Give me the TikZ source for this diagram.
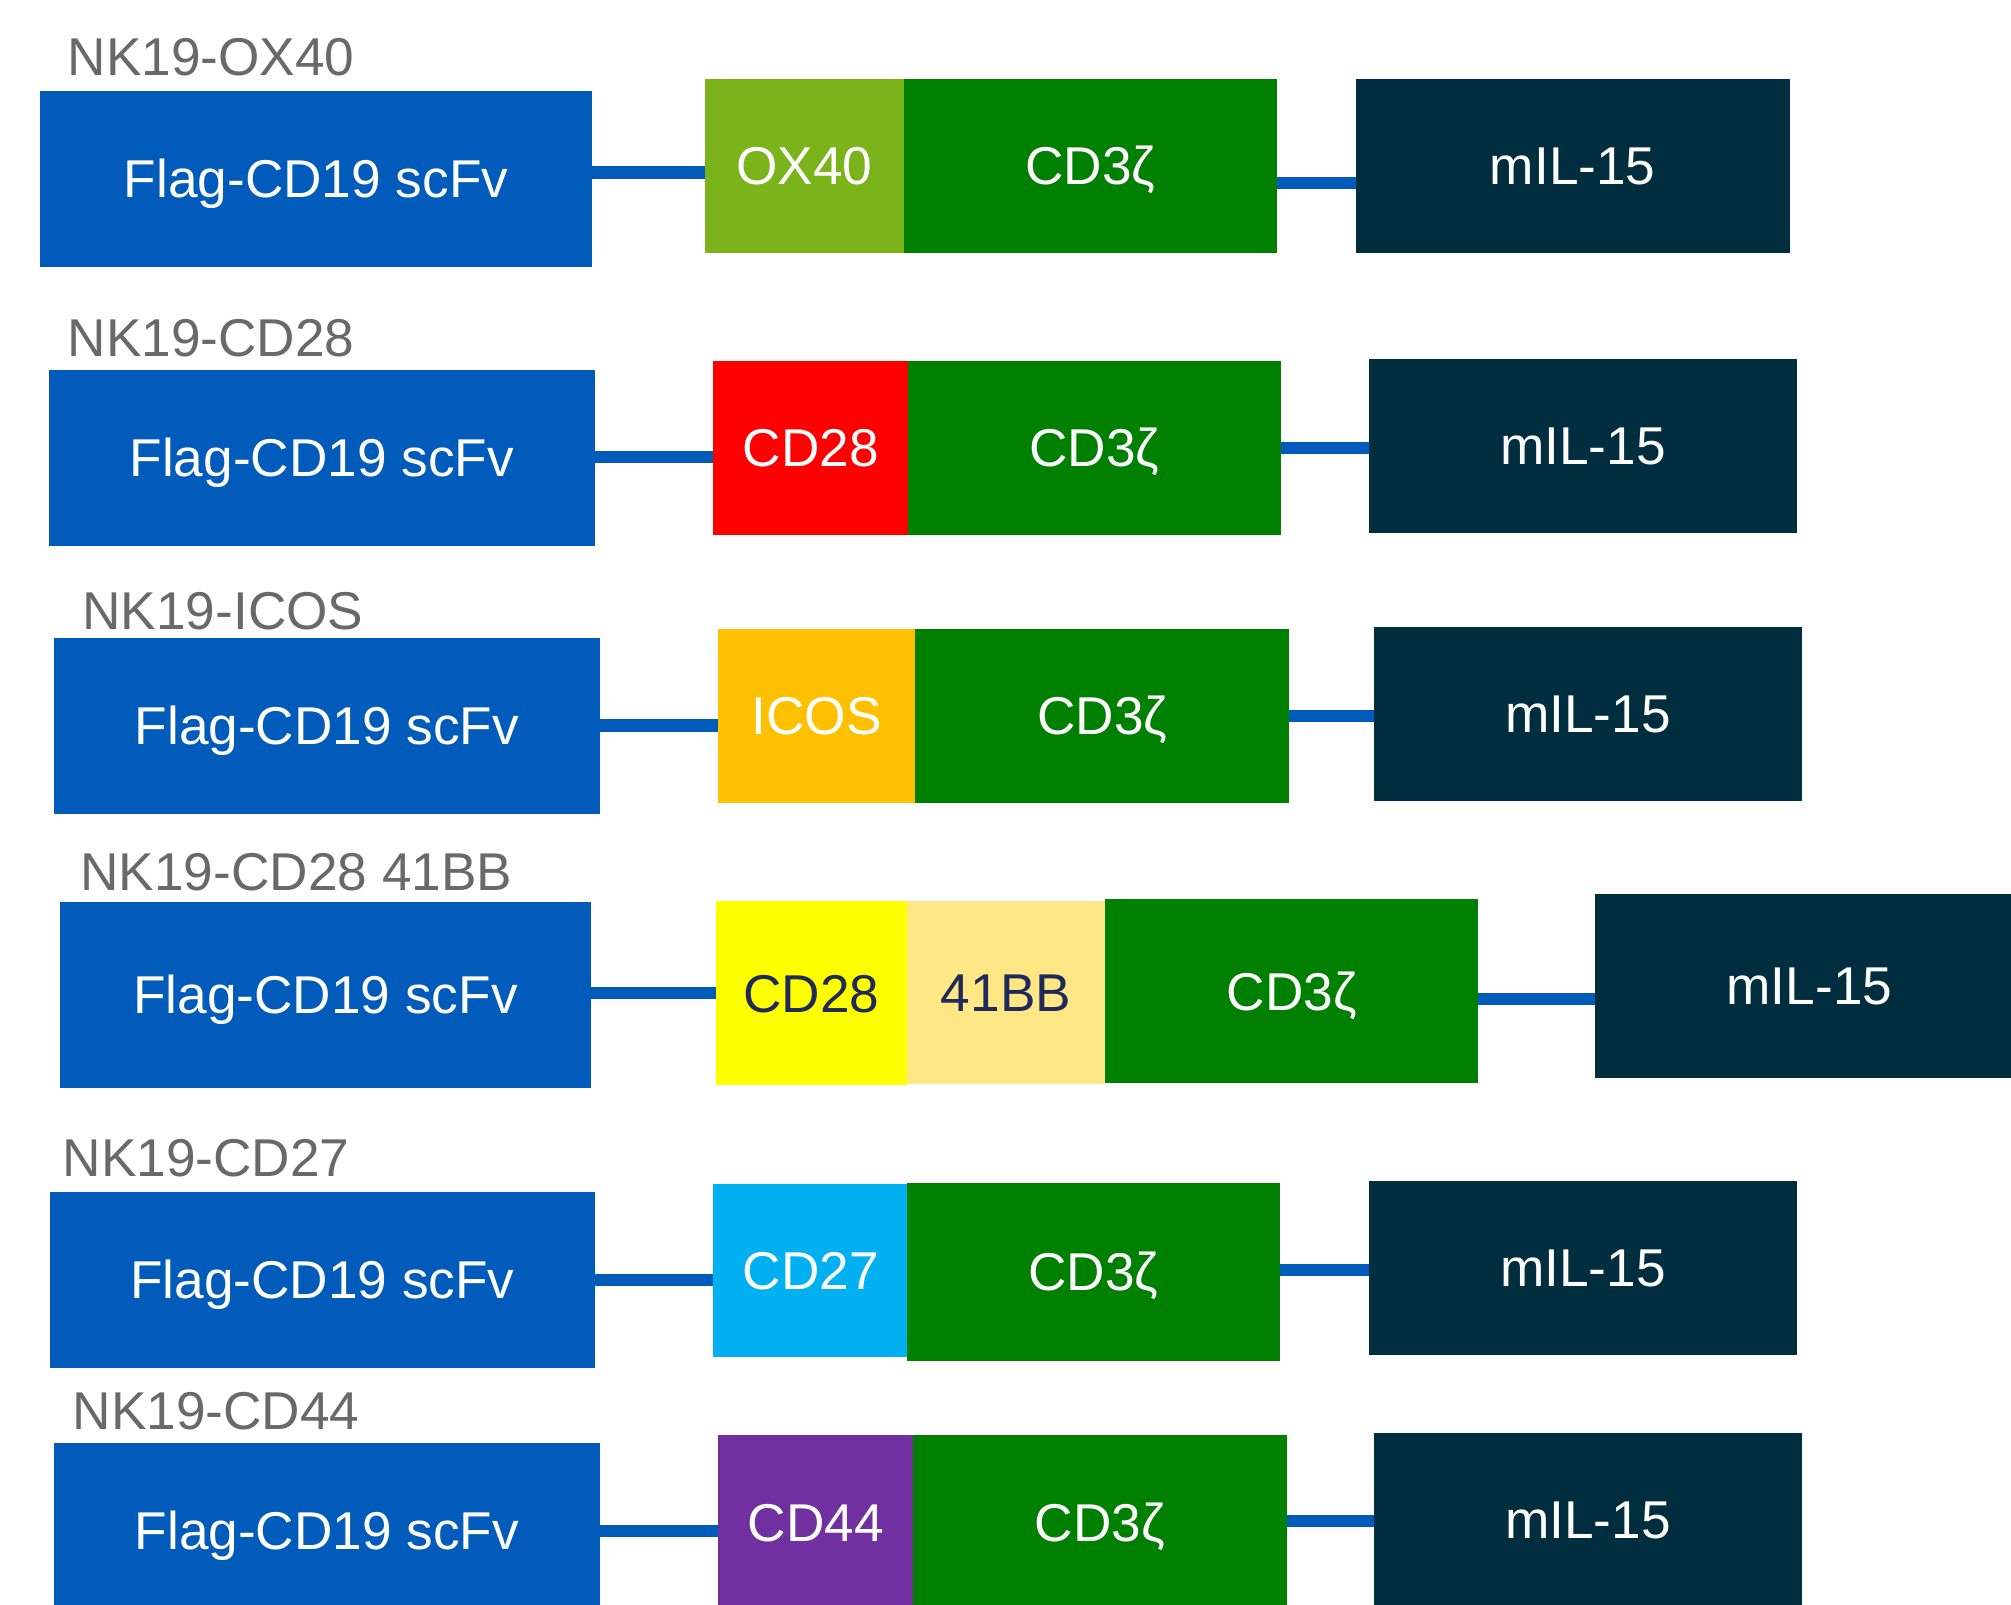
\documentclass[tikz,border=0pt]{standalone}
\usepackage{fontspec}
\setmainfont{Liberation Sans}

\definecolor{scfvblue}{RGB}{0,91,187}
\definecolor{zetagreen}{RGB}{0,128,0}
\definecolor{ilnavy}{RGB}{0,46,62}
\definecolor{oxgreen}{RGB}{122,180,26}
\definecolor{cdred}{RGB}{255,0,0}
\definecolor{icosorange}{RGB}{255,192,0}
\definecolor{cdyellow}{RGB}{255,255,0}
\definecolor{bbyellow}{RGB}{255,231,133}
\definecolor{cdcyan}{RGB}{0,176,240}
\definecolor{cdpurple}{RGB}{112,48,160}
\definecolor{labelgray}{RGB}{105,105,105}
\definecolor{darktext}{RGB}{31,42,90}

\tikzset{
    part/.style={rectangle, inner sep=0pt, outer sep=0pt, anchor=north west,
        text=white, font=\fontsize{11.8}{14}\selectfont,
        text height=0.295cm, text depth=0pt},
    scfv/.style={part, fill=scfvblue, minimum width=4.25cm, minimum height=1.37cm},
    costim/.style={part, minimum width=1.52cm, minimum height=1.355cm},
    cdzeta/.style={part, fill=zetagreen, minimum width=2.91cm, minimum height=1.355cm},
    mil/.style={part, fill=ilnavy, minimum width=3.335cm, minimum height=1.355cm},
    cartitle/.style={anchor=base west, inner sep=0pt, text=labelgray,
        font=\fontsize{11.8}{14}\selectfont},
    link/.style={draw=scfvblue, line width=0.095cm}
}

\begin{document}
\begin{tikzpicture}[x=0.01cm, y=-0.01cm]
    \useasboundingbox (0,0) rectangle (1568,1251);
    \clip (0,0) rectangle (1568,1251);

    % NK19-OX40
    \node[cartitle] (t1) at (52,58.5) {NK19-OX40};
    \node[scfv, minimum width=4.30cm] (scfv1) at (31.3,71) {Flag-CD19 scFv};
    \node[costim, fill=oxgreen, minimum width=1.551cm] (ox1) at (549.5,61.6) {OX40};
    \node[cdzeta] (zeta1) at (704.6,61.6) {CD3ζ};
    \node[mil, minimum width=3.38cm] (il1) at (1057.2,61.6) {mIL-15};
    \draw[link] (scfv1.east |- 0,134.5) -- (ox1.west |- 0,134.5);
    \draw[link] (zeta1.east |- 0,142.5) -- (il1.west |- 0,142.5);

    % NK19-CD28
    \node[cartitle] (t2) at (52,277.6) {NK19-CD28};
    \node[scfv] (scfv2) at (38.3,288.5) {Flag-CD19 scFv};
    \node[costim, fill=cdred] (cd2) at (556,281.5) {CD28};
    \node[cdzeta] (zeta2) at (707.6,281.5) {CD3ζ};
    \node[mil] (il2) at (1067.3,279.9) {mIL-15};
    \draw[link] (scfv2.east |- 0,356.5) -- (cd2.west |- 0,356.5);
    \draw[link] (zeta2.east |- 0,349) -- (il2.west |- 0,349);

    % NK19-ICOS
    \node[cartitle] (t3) at (63.6,491.2) {NK19-ICOS};
    \node[scfv] (scfv3) at (42.3,497.4) {Flag-CD19 scFv};
    \node[costim, fill=icosorange, minimum width=1.536cm] (icos3) at (560,490.4) {ICOS};
    \node[cdzeta] (zeta3) at (713.8,490.4) {CD3ζ};
    \node[mil] (il3) at (1071.3,488.8) {mIL-15};
    \draw[link] (scfv3.east |- 0,565.7) -- (icos3.west |- 0,565.7);
    \draw[link] (zeta3.east |- 0,558) -- (il3.west |- 0,558);

    % NK19-CD28 41BB
    \node[cartitle] (t4) at (62,694) {NK19-CD28 41BB};
    \node[scfv, minimum width=4.14cm, minimum height=1.45cm] (scfv4) at (46.7,703.3) {Flag-CD19 scFv};
    \node[costim, fill=cdyellow, text=darktext, minimum width=1.486cm, minimum height=1.434cm] (cd4) at (558.4,702.6) {CD28};
    \node[costim, fill=bbyellow, text=darktext, minimum width=1.546cm, minimum height=1.424cm] (bb4) at (707,702.6) {41BB};
    \node[cdzeta, minimum height=1.435cm] (zeta4) at (861.6,701) {CD3ζ};
    \node[mil, minimum width=3.34cm, minimum height=1.436cm] (il4) at (1243.7,697) {mIL-15};
    \draw[link] (scfv4.east |- 0,774) -- (cd4.west |- 0,774);
    \draw[link] (zeta4.east |- 0,779) -- (il4.west |- 0,779);

    % NK19-CD27
    \node[cartitle] (t5) at (48.2,917) {NK19-CD27};
    \node[scfv] (scfv5) at (38.8,929.4) {Flag-CD19 scFv};
    \node[costim, fill=cdcyan, minimum height=1.346cm] (cd5) at (556,923.2) {CD27};
    \node[cdzeta, minimum height=1.388cm] (zeta5) at (707,922.2) {CD3ζ};
    \node[mil] (il5) at (1067.3,920.9) {mIL-15};
    \draw[link] (scfv5.east |- 0,998) -- (cd5.west |- 0,998);
    \draw[link] (zeta5.east |- 0,990.3) -- (il5.west |- 0,990.3);

    % NK19-CD44
    \node[cartitle] (t6) at (56,1114.5) {NK19-CD44};
    \node[scfv] (scfv6) at (42.3,1125) {Flag-CD19 scFv};
    \node[costim, fill=cdpurple] (cd6) at (560,1119) {CD44};
    \node[cdzeta] (zeta6) at (712,1119) {CD3ζ};
    \node[mil, minimum height=1.36cm] (il6) at (1071.3,1117) {mIL-15};
    \draw[link] (scfv6.east |- 0,1194) -- (cd6.west |- 0,1194);
    \draw[link] (zeta6.east |- 0,1186) -- (il6.west |- 0,1186);
\end{tikzpicture}
\end{document}
